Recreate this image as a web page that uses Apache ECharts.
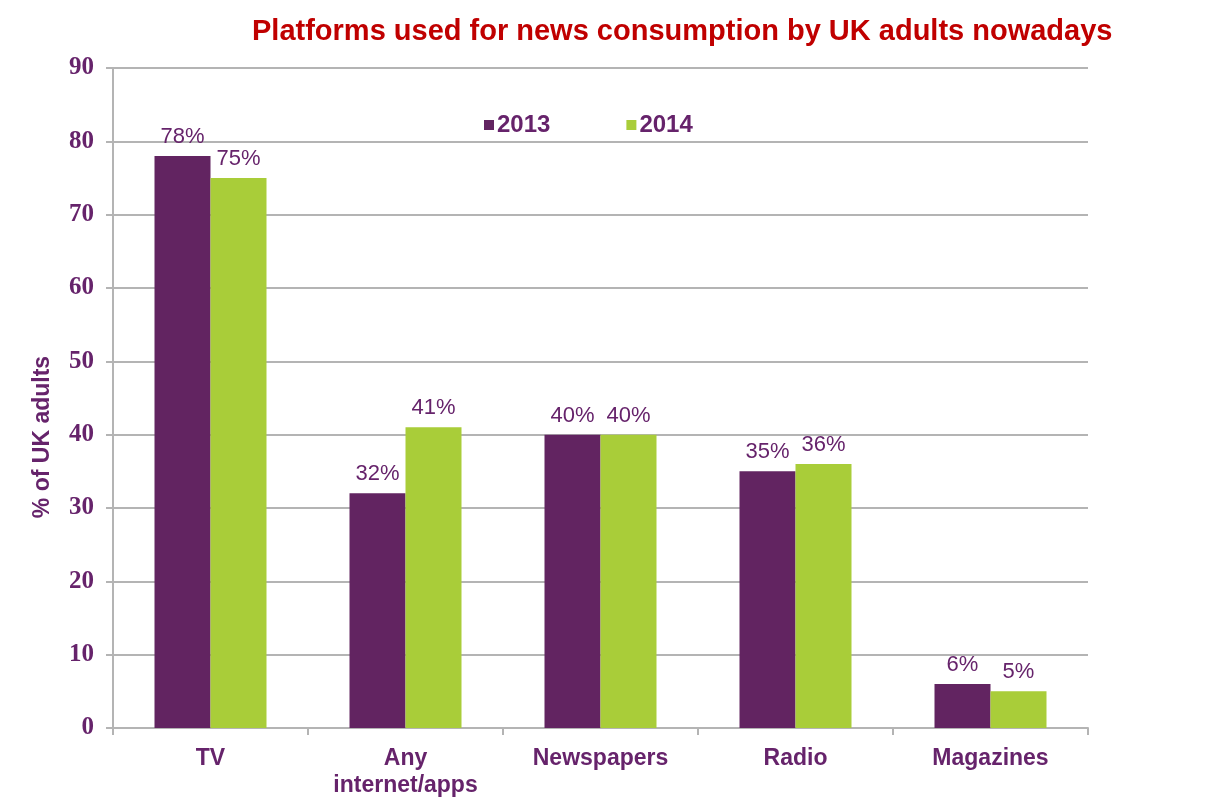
<!DOCTYPE html>
<html>
<head>
<meta charset="utf-8">
<script src="https://cdn.jsdelivr.net/npm/echarts@6/dist/echarts.min.js"></script>
<style>
  html, body { margin: 0; padding: 0; background: #ffffff; }
  #chart { width: 1210px; height: 803px; }
</style>
</head>
<body>
<div id="chart"></div>
<script>
// Share of UK adults using each platform for news, by survey year
const categories = ['TV', 'Any\ninternet/apps', 'Newspapers', 'Radio', 'Magazines'];
const values2013 = [78, 32, 40, 35, 6];
const values2014 = [75, 41, 40, 36, 5];
const yTicks = { min: 0, max: 90, interval: 10 };

const PURPLE = '#622461';
const GREEN = '#a9cd39';
const TEXT = '#66236b';
const GRID = '#b4b4b4';

const chart = echarts.init(document.getElementById('chart'));

const labelStyle = {
  show: true,
  position: 'top',
  distance: 8,
  formatter: '{c}%',
  color: TEXT,
  fontFamily: 'Liberation Sans, Arial, sans-serif',
  fontSize: 22
};

chart.setOption({
  animation: false,
  backgroundColor: '#ffffff',
  title: {
    text: 'Platforms used for news consumption by UK adults nowadays',
    left: 247,
    top: 12,
    textStyle: {
      color: '#c00000',
      fontFamily: 'Liberation Sans, Arial, sans-serif',
      fontWeight: 'bold',
      fontSize: 29
    }
  },
  legend: {
    left: 479,
    top: 108,
    itemWidth: 10,
    itemHeight: 10,
    itemGap: 76,
    icon: 'rect',
    textStyle: {
      color: TEXT,
      fontFamily: 'Liberation Sans, Arial, sans-serif',
      fontWeight: 'bold',
      fontSize: 24,
      padding: [0, 0, 0, -2]
    },
    data: ['2013', '2014']
  },
  grid: { left: 113, right: 122, top: 68, bottom: 75 },
  xAxis: {
    type: 'category',
    data: categories,
    axisLine: { lineStyle: { color: GRID, width: 2 } },
    axisTick: { show: true, length: 7, lineStyle: { color: GRID, width: 2 } },
    axisLabel: {
      color: TEXT,
      fontFamily: 'Liberation Sans, Arial, sans-serif',
      fontWeight: 'bold',
      fontSize: 23,
      lineHeight: 27,
      margin: 17,
      interval: 0
    }
  },
  yAxis: {
    type: 'value',
    min: yTicks.min,
    max: yTicks.max,
    interval: yTicks.interval,
    name: '% of UK adults',
    nameLocation: 'middle',
    nameGap: 59,
    nameRotate: 90,
    nameTextStyle: {
      color: TEXT,
      fontFamily: 'Liberation Sans, Arial, sans-serif',
      fontWeight: 'bold',
      fontSize: 23,
      padding: [0, 0, 0, -78]
    },
    axisLine: { show: true, lineStyle: { color: GRID, width: 2 } },
    axisTick: { show: true, length: 7, lineStyle: { color: GRID, width: 2 } },
    axisLabel: {
      color: TEXT,
      fontFamily: 'Liberation Serif, Times New Roman, serif',
      fontWeight: 'bold',
      fontSize: 25,
      margin: 19
    },
    splitLine: { show: true, lineStyle: { color: GRID, width: 2 } }
  },
  series: [
    {
      name: '2013',
      type: 'bar',
      data: values2013,
      barWidth: 56,
      barGap: '0%',
      itemStyle: { color: PURPLE },
      label: labelStyle
    },
    {
      name: '2014',
      type: 'bar',
      data: values2014,
      barWidth: 56,
      barGap: '0%',
      itemStyle: { color: GREEN },
      label: labelStyle
    }
  ]
});
</script>
</body>
</html>
